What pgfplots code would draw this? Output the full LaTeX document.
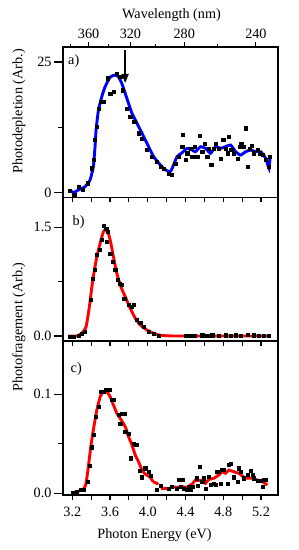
\documentclass[border=0pt]{standalone}
\usepackage{fontspec}
\setmainfont{Liberation Serif}
\usepackage{pgfplots}
\pgfplotsset{compat=1.18}
\usetikzlibrary{arrows.meta}
\newcommand{\myf}{\fontsize{14.2}{16}\selectfont}
\begin{document}
\begin{tikzpicture}[font=\myf]
\path[use as bounding box] (0,0) rectangle (299pt,-550pt);
\pgfplotsset{
 panel/.style={scale only axis, width=215pt, xmin=3.1014, xmax=5.38, anchor=north west,
   axis line style={line width=1.4pt}, tick align=outside, xtick pos=left, ytick pos=left,
   xtick={3.2,3.6,4.0,4.4,4.8,5.2}, minor xtick={3.4,3.8,4.2,4.6,5.0},
   major tick length=9pt, minor tick length=5pt,
   tick style={line width=1.1pt, black},
   xtick style={/pgfplots/major tick length=5pt},
   every tick label/.append style={font=\myf},
   yticklabel style={xshift=1pt},
   /pgf/number format/assume math mode=true,
   clip=false,
 },
 pts/.style={only marks, mark=square*, mark size=1.6pt, black},
}
% ---------- panel a
\begin{axis}[panel, at={(63pt,-47pt)}, height=150.3pt, ymin=-0.88, ymax=27.87,
  ytick={0,25}, minor ytick={12.5}, xticklabels={}]
\addplot[pts] coordinates {
(3.176,0.38)(3.22,-0.4)(3.271,1.15)(3.31,0.5)(3.36,1.8)(3.406,4.7)(3.423,6.25)(3.441,10.1)
(3.46,12.6)(3.477,16.1)(3.502,17.4)(3.53,17.4)(3.572,21.9)(3.601,19.0)(3.636,19.3)(3.672,22.8)
(3.707,22.2)(3.736,19.6)(3.779,16.1)(3.814,14.5)(3.856,13.6)(3.902,11.4)(3.938,10.4)(3.991,8.17)
(4.045,6.89)(4.098,5.93)(4.133,4.97)(4.168,4.66)(4.221,3.6)(4.257,3.5)(4.29,5.5)(4.328,6.9)
(4.364,8.8)(4.374,11.04)(4.399,6.25)(4.417,7.54)(4.452,8.49)(4.47,6.89)(4.495,8.8)(4.523,6.89)
(4.551,10.85)(4.577,7.84)(4.601,9.45)(4.63,6.89)(4.647,8.49)(4.672,5.3)(4.7,8.49)(4.718,9.45)
(4.753,8.49)(4.771,6.58)(4.8,10.08)(4.824,8.49)(4.843,7.54)(4.86,10.71)(4.885,8.17)(4.913,7.54)
(4.949,6.58)(4.977,8.8)(4.991,9.32)(5.013,8.8)(5.037,12.32)(5.055,4.97)(5.083,8.49)(5.098,8.93)
(5.126,7.54)(5.162,8.17)(5.189,7.54)(5.215,7.2)(5.25,6.25)(5.285,4.97)(5.296,6.89)};
\addplot[blue, line width=2.9pt, smooth, tension=0.3] coordinates {
(3.176,0.52)(3.211,0)(3.264,0.52)(3.335,1.15)(3.388,2.43)(3.423,4.97)(3.441,8.8)(3.452,12.0)
(3.477,15.8)(3.513,18.4)(3.548,20.3)(3.601,22.1)(3.654,22.5)(3.689,22.2)(3.725,20.9)(3.761,19.0)
(3.796,17.1)(3.832,15.2)(3.885,13.3)(3.938,11.4)(3.991,9.45)(4.062,6.9)(4.133,5.3)(4.168,4.6)
(4.204,4.2)(4.235,4.0)(4.257,4.6)(4.31,6.89)(4.364,7.65)(4.417,8.49)(4.47,8.17)(4.505,7.84)
(4.559,8.8)(4.612,8.49)(4.665,7.54)(4.718,8.8)(4.771,8.49)(4.824,8.8)(4.878,9.12)(4.931,7.84)
(4.984,7.2)(5.037,7.84)(5.09,8.17)(5.144,7.84)(5.197,7.84)(5.25,6.57)(5.285,4.66)(5.296,6.9)};
\draw[-{Triangle[length=9pt,width=7pt]}, line width=1.4pt] (axis cs:3.76,27.3) -- (axis cs:3.76,21.0);
\end{axis}
% ---------- top wavelength axis
\begin{axis}[scale only axis, width=215pt, height=150.3pt, at={(63pt,-47pt)}, anchor=north west,
  xmin=3.181, xmax=5.393, ymin=0, ymax=1, hide y axis,
  axis line style={line width=1.4pt}, tick align=outside,
  xtick pos=right, xticklabel pos=right,
  xtick={3.4440,3.8745,4.4280,5.1660}, xticklabels={360,320,280,240},
  minor xtick={3.2627,3.6466,4.1328,4.7686},
  major tick length=5pt, minor tick length=3pt, tick style={line width=1.1pt, black},
  every tick label/.append style={font=\myf}]
\addplot[draw=none] coordinates {(3.5,0.5)};
\end{axis}
% ---------- panel b
\begin{axis}[panel, at={(63pt,-197.3pt)}, height=143.7pt, ymin=-0.069, ymax=1.914,
  ytick={0,1.5}, minor ytick={0.75}, xticklabels={},
  yticklabel style={/pgf/number format/.cd, fixed, fixed zerofill, precision=1}]
\addplot[pts] coordinates {
(3.176,-0.01)(3.218,-0.01)(3.264,0)(3.3,0.028)(3.335,0.06)(3.396,0.497)(3.417,0.796)(3.441,0.911)
(3.46,1.118)(3.487,1.187)(3.513,1.325)(3.53,1.518)(3.559,1.486)(3.572,1.44)(3.566,1.301)
(3.601,1.141)(3.63,1.025)(3.654,0.911)(3.679,0.773)(3.7,0.727)(3.726,0.704)(3.75,0.52)
(3.796,0.428)(3.832,0.404)(3.849,0.428)(3.885,0.221)(3.92,0.184)(3.955,0.128)(4.009,0.06)
(4.062,0.028)(4.115,0)};
\addplot[red, line width=2.9pt, smooth, tension=0.3] coordinates {
(3.16,0)(3.247,0.0)(3.3,0.037)(3.346,0.128)(3.381,0.404)(3.417,0.773)(3.46,1.094)(3.495,1.279)
(3.53,1.44)(3.559,1.472)(3.583,1.417)(3.609,1.279)(3.636,1.094)(3.672,0.865)(3.715,0.68)
(3.761,0.542)(3.814,0.382)(3.867,0.244)(3.92,0.152)(3.991,0.083)(4.062,0.037)(4.133,0.01)
(4.274,0)(4.8,0)(5.29,0)};
\addplot[pts] coordinates {
(4.40,0)(4.45,0.005)(4.50,0)(4.577,0.01)(4.63,0.005)(4.683,0.01)
(4.753,0.005)(4.824,0.01)(4.878,0.005)(4.931,0.01)(4.984,0.005)(5.055,0.015)(5.126,0.01)
(5.179,0.005)(5.232,0.005)(5.285,0)};
\end{axis}
% ---------- panel c
\begin{axis}[panel, at={(63pt,-341pt)}, height=154pt, ymin=-0.0017, ymax=0.1538,
  ytick={0,0.1}, minor ytick={0.05},
  yticklabel style={/pgf/number format/.cd, fixed, fixed zerofill, precision=1},
  xticklabel style={/pgf/number format/.cd, fixed, fixed zerofill, precision=1}]
\addplot[pts] coordinates {
(3.204,0.0006)(3.247,0.0017)(3.289,0.0034)(3.324,0.0034)(3.36,0.0117)(3.381,0.0276)(3.406,0.0465)
(3.431,0.0589)(3.452,0.0774)(3.477,0.0875)(3.502,0.1026)(3.53,0.1026)(3.559,0.105)(3.594,0.105)
(3.619,0.0949)(3.636,0.0942)(3.689,0.0791)(3.726,0.0801)(3.75,0.0801)(3.707,0.0707)(3.761,0.0622)
(3.796,0.0606)(3.821,0.0354)(3.849,0.0505)(3.878,0.0488)(3.913,0.0228)(3.938,0.0162)(3.973,0.0253)
(4.009,0.0218)(4.027,0.0175)(4.098,0.0033)(4.133,0.0074)};
\addplot[red, line width=2.9pt, smooth, tension=0.3] coordinates {
(3.194,0.0)(3.247,0.0017)(3.317,0.004)(3.346,0.0101)(3.37,0.0269)(3.396,0.047)(3.423,0.064)
(3.46,0.0841)(3.496,0.0976)(3.53,0.1026)(3.566,0.1026)(3.601,0.0976)(3.636,0.0892)(3.672,0.0808)
(3.707,0.0758)(3.761,0.0673)(3.796,0.0572)(3.832,0.0488)(3.867,0.0387)(3.902,0.032)(3.938,0.0235)
(3.973,0.0195)(4.027,0.0162)(4.055,0.0117)};
\addplot[red, line width=2.9pt, dash pattern=on 6pt off 5pt] coordinates {
(4.055,0.0117)(4.098,0.0101)(4.133,0.005)(4.204,0.005)(4.257,0.0067)};
\addplot[red, line width=2.9pt] coordinates {
(4.257,0.0067)(4.31,0.006)(4.364,0.0067)(4.417,0.006)(4.47,0.0094)(4.505,0.0134)(4.541,0.0127)
(4.577,0.0134)(4.612,0.0101)(4.647,0.0141)(4.7,0.0152)(4.753,0.0185)(4.789,0.0218)(4.824,0.0202)
(4.86,0.0235)(4.913,0.0218)(4.966,0.0202)(5.019,0.0162)(5.055,0.0152)(5.108,0.0152)(5.162,0.0134)
(5.215,0.0117)(5.268,0.0084)};
\addplot[pts] coordinates {
(4.221,0.005)(4.257,0.0067)(4.31,0.005)(4.328,0.0141)(4.346,0.0067)(4.374,0.0141)(4.381,0.005)
(4.41,0.004)(4.434,0.0067)(4.452,0.0034)(4.47,0.0067)(4.516,0.0152)(4.53,0.0074)(4.551,0.0269)
(4.577,0.0117)(4.594,0.0152)(4.612,0.005)(4.647,0.0168)(4.665,0.0084)(4.7,0.0101)(4.718,0.0084)
(4.736,0.0218)(4.753,0.0218)(4.771,0.0094)(4.789,0.0235)(4.806,0.0235)(4.843,0.0094)(4.86,0.0286)
(4.878,0.0303)(4.913,0.0162)(4.949,0.0117)(4.966,0.0253)(4.984,0.0218)(5.019,0.0152)(5.055,0.0185)
(5.09,0.0228)(5.108,0.0185)(5.126,0.0152)(5.162,0.0127)(5.197,0.0127)(5.215,0.0067)(5.232,0.0134)
(5.25,0.0134)};
\end{axis}
% ---------- labels
\node[font=\myf] at (171.5pt,-15pt) {Wavelength (nm)};
\node[font=\myf] at (154.5pt,-535pt) {Photon Energy (eV)};
\node[font=\myf, rotate=90] at (19pt,-111.5pt) {Photodepletion (Arb.)};
\node[font=\myf, rotate=90] at (19pt,-327pt) {Photofragement (Arb.)};
\node[font=\myf, anchor=north west, inner sep=0pt] at (68pt,-54pt) {a)};
\node[font=\myf, anchor=north west, inner sep=0pt] at (72.5pt,-215pt) {b)};
\node[font=\myf, anchor=north west, inner sep=0pt] at (70.5pt,-362pt) {c)};
\end{tikzpicture}
\end{document}
